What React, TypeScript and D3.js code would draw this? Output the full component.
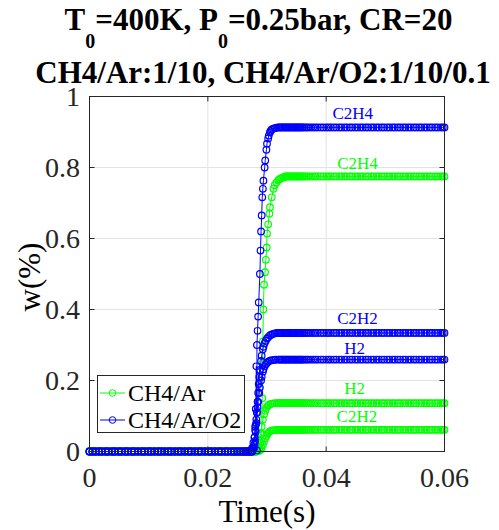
import React from "react";
import * as d3 from "d3";

// ---------- data ----------
const xTicks = [0, 0.02, 0.04, 0.06];
const yTicks = [0, 0.2, 0.4, 0.6, 0.8, 1];
const xTickLabels = ["0", "0.02", "0.04", "0.06"];
const yTickLabels = ["0", "0.2", "0.4", "0.6", "0.8", "1"];

const mixtures = ["CH4/Ar", "CH4/Ar/O2"];
const mixtureColors = ["#00ff00", "#0000ff"];

// solver output times before ignition (value ~0)
const preTimes = [
  0, 0.0005, 0.001, 0.0016, 0.0021, 0.0027, 0.0032, 0.0038, 0.0043, 0.0049, 0.0054, 0.006,
  0.0065, 0.0071, 0.0076, 0.0082, 0.0088, 0.0093, 0.0099, 0.0104, 0.011, 0.0116, 0.0121,
  0.0127, 0.0133, 0.0138, 0.0144, 0.015, 0.0155, 0.0161, 0.0167, 0.0172, 0.0178, 0.0184,
  0.0189, 0.0195, 0.0201, 0.0206, 0.0212, 0.0218, 0.0223, 0.0229, 0.0234, 0.024, 0.0245,
  0.025, 0.0255, 0.026, 0.0264, 0.0268, 0.0272, 0.0275, 0.0278, 0.0281,
];
// solver output times after ignition (value at plateau)
const plateauTimes = [
  0.0319, 0.0321, 0.0323, 0.0325, 0.0327, 0.0329, 0.0331, 0.0333, 0.0335, 0.0337, 0.0339,
  0.0341, 0.0343, 0.0345, 0.0347, 0.0349, 0.0351, 0.0353, 0.0355, 0.0357, 0.0359, 0.0361,
  0.0364, 0.0367, 0.037, 0.0374, 0.0378, 0.0382, 0.0386, 0.0391, 0.0395, 0.04, 0.0404,
  0.0408, 0.0413, 0.0417, 0.0422, 0.0426, 0.0431, 0.0435, 0.044, 0.0444, 0.0449, 0.0453,
  0.0458, 0.0462, 0.0467, 0.0471, 0.0476, 0.048, 0.0485, 0.0489, 0.0494, 0.0498, 0.0503,
  0.0507, 0.0512, 0.0516, 0.0521, 0.0525, 0.053, 0.0534, 0.0539, 0.0543, 0.0548, 0.0552,
  0.0557, 0.0561, 0.0566, 0.057, 0.0575, 0.0579, 0.0584, 0.0588, 0.0593, 0.0597, 0.06,
];

// CH4/Ar (green)
const arC2H4Rise: [number, number][] = [
  [0.0284, 0.002], [0.0287, 0.01], [0.0289, 0.025], [0.0291, 0.05], [0.0292, 0.15],
  [0.02925, 0.25], [0.0293, 0.31], [0.02938, 0.4], [0.0295, 0.47], [0.02966, 0.505],
  [0.0298, 0.54], [0.02995, 0.575], [0.0300, 0.614], [0.0302, 0.64], [0.0304, 0.67],
  [0.0305, 0.688], [0.0308, 0.716], [0.0311, 0.74], [0.0313, 0.75], [0.0316, 0.758],
  [0.0319, 0.764], [0.0321, 0.767], [0.0324, 0.77], [0.0327, 0.772], [0.033, 0.774],
];
const arC2H4Level = 0.775;
const arH2Rise: [number, number][] = [
  [0.0283, 0.004], [0.0285, 0.015], [0.0287, 0.03], [0.0289, 0.05], [0.0291, 0.07],
  [0.0293, 0.09], [0.0295, 0.105], [0.0297, 0.115], [0.0299, 0.123], [0.0301, 0.128],
  [0.0303, 0.131], [0.0306, 0.134], [0.0309, 0.135], [0.0313, 0.136], [0.0317, 0.136],
];
const arH2Level = 0.136;
const arC2H2Rise: [number, number][] = [
  [0.0287, 0.002], [0.0289, 0.005], [0.0291, 0.01], [0.0293, 0.018], [0.0295, 0.028],
  [0.0297, 0.037], [0.0299, 0.044], [0.0301, 0.05], [0.0303, 0.054], [0.0305, 0.057],
  [0.0308, 0.059], [0.0311, 0.06], [0.0315, 0.061], [0.0318, 0.061],
];
const arC2H2Level = 0.061;

// CH4/Ar/O2 (blue)
const o2C2H4Rise: [number, number][] = [
  [0.0283, 0.003], [0.0276, 0.01], [0.0279, 0.04], [0.028, 0.07], [0.0281, 0.12],
  [0.0282, 0.24], [0.0283, 0.3], [0.0284, 0.34], [0.0285, 0.38], [0.0286, 0.42],
  [0.0288, 0.5], [0.0289, 0.566], [0.029, 0.62], [0.0291, 0.665], [0.0292, 0.716],
  [0.0293, 0.74], [0.0294, 0.763], [0.0296, 0.8], [0.0297, 0.82], [0.0299, 0.85],
  [0.03, 0.867], [0.0302, 0.882], [0.0303, 0.89], [0.0305, 0.899], [0.0306, 0.903],
  [0.0308, 0.907], [0.031, 0.909], [0.0313, 0.911], [0.0316, 0.912],
];
const o2C2H4Level = 0.913;
const o2C2H2Rise: [number, number][] = [
  [0.0277, 0.008], [0.0279, 0.02], [0.028, 0.03], [0.0281, 0.055], [0.0282, 0.08],
  [0.0283, 0.11], [0.0284, 0.14], [0.0285, 0.165], [0.0286, 0.19], [0.0287, 0.21],
  [0.0288, 0.23], [0.029, 0.255], [0.0291, 0.27], [0.0293, 0.288], [0.0294, 0.295],
  [0.0296, 0.305], [0.0298, 0.312], [0.03, 0.318], [0.0302, 0.322], [0.0305, 0.327],
  [0.0307, 0.329], [0.031, 0.331], [0.0313, 0.333], [0.0317, 0.334],
];
const o2C2H2Level = 0.334;
const o2H2Rise: [number, number][] = [
  [0.0275, 0.01], [0.0277, 0.025], [0.0279, 0.04], [0.028, 0.06], [0.0281, 0.075],
  [0.0282, 0.09], [0.0283, 0.11], [0.0284, 0.125], [0.0285, 0.14], [0.0287, 0.165],
  [0.0288, 0.18], [0.029, 0.2], [0.0291, 0.21], [0.0293, 0.225], [0.0294, 0.232],
  [0.0296, 0.24], [0.0298, 0.246], [0.03, 0.25], [0.0302, 0.253], [0.0305, 0.256],
  [0.0308, 0.257], [0.0312, 0.258], [0.0315, 0.259],
];
const o2H2Level = 0.259;

const labelTexts = ["C2H4", "C2H4", "C2H2", "H2", "H2", "C2H2"];
const labelMix = [1, 0, 1, 1, 0, 0];
const labelT = [0.0445, 0.0453, 0.0453, 0.0448, 0.0448, 0.0452];
const labelW = [0.938, 0.797, 0.36, 0.276, 0.163, 0.082];

// ---------- build series ----------
function buildSeries(rise: [number, number][], level: number): [number, number][] {
  const first = d3.min(rise, (d) => d[0]) as number;
  const last = d3.max(rise, (d) => d[0]) as number;
  const pre = preTimes.filter((t) => t < first).map((t) => [t, 0] as [number, number]);
  const mid = [...rise].sort((a, b) => a[0] - b[0]);
  const post = plateauTimes.filter((t) => t > last).map((t) => [t, level] as [number, number]);
  return [...pre, ...mid, ...post];
}

const seriesList = [
  { mix: 0, pts: buildSeries(arC2H4Rise, arC2H4Level) },
  { mix: 0, pts: buildSeries(arH2Rise, arH2Level) },
  { mix: 0, pts: buildSeries(arC2H2Rise, arC2H2Level) },
  { mix: 1, pts: buildSeries(o2C2H4Rise, o2C2H4Level) },
  { mix: 1, pts: buildSeries(o2C2H2Rise, o2C2H2Level) },
  { mix: 1, pts: buildSeries(o2H2Rise, o2H2Level) },
];

// ---------- layout ----------
const W = 499;
const H = 530;
const left = 89.5;
const right = 444.5;
const top = 96.5;
const bottom = 451.5;
const FONT = "Liberation Serif";
const AX = "#262626";
const tf = { fontFamily: FONT };

export default function App() {
  const x = d3.scaleLinear().domain([0, 0.06]).range([left, right]);
  const y = d3.scaleLinear().domain([0, 1]).range([bottom, top]);
  const line = d3
    .line<[number, number]>()
    .x((d) => x(d[0]))
    .y((d) => y(d[1]));
  const tick = 5;

  return (
    <svg
      width={W}
      height={H}
      style={{ position: "absolute", left: 0, top: 0, background: "#fff", fontFamily: FONT }}
    >
      <rect x={0} y={0} width={W} height={H} fill="#fff" />
      {/* title */}
      <text x={258.5} y={29.5} textAnchor="middle" fontSize={31} fontWeight="bold" fill="#000" style={tf}>
        <tspan>T</tspan>
        <tspan fontSize={20} dy={18}>0</tspan>
        <tspan dy={-18}>=400K, P</tspan>
        <tspan fontSize={20} dy={18}>0</tspan>
        <tspan dy={-18}>=0.25bar, CR=20</tspan>
      </text>
      <text x={263} y={82.5} textAnchor="middle" fontSize={31} fontWeight="bold" fill="#000" style={tf}>
        CH4/Ar:1/10, CH4/Ar/O2:1/10/0.1
      </text>

      {/* grid */}
      <g stroke="#e3e3e3" strokeWidth={1}>
        {xTicks.slice(1, -1).map((t) => (
          <line key={"gx" + t} x1={x(t)} x2={x(t)} y1={top} y2={bottom} />
        ))}
        {yTicks.slice(1, -1).map((t) => (
          <line key={"gy" + t} x1={left} x2={right} y1={y(t)} y2={y(t)} />
        ))}
      </g>

      {/* series */}
      {seriesList.map((s, i) => (
        <g key={"s" + i} stroke={mixtureColors[s.mix]} fill="none" strokeWidth={1}>
          <path d={line(s.pts) || ""} />
          {s.pts.map((p, j) => (
            <circle key={j} cx={x(p[0])} cy={y(p[1])} r={3.3} strokeWidth={1.2} />
          ))}
        </g>
      ))}

      {/* annotations */}
      {labelTexts.map((t, i) => (
        <text
          key={"l" + i}
          x={x(labelT[i])}
          y={y(labelW[i])}
          textAnchor="middle"
          fontSize={17}
          fill={mixtureColors[labelMix[i]]}
          style={tf}
        >
          {t}
        </text>
      ))}

      {/* axes box */}
      <rect x={left} y={top} width={right - left} height={bottom - top} fill="none" stroke={AX} strokeWidth={1} />
      <g stroke={AX} strokeWidth={1}>
        {xTicks.map((t) => (
          <g key={"tx" + t}>
            <line x1={x(t)} x2={x(t)} y1={bottom} y2={bottom - tick} />
            <line x1={x(t)} x2={x(t)} y1={top} y2={top + tick} />
          </g>
        ))}
        {yTicks.map((t) => (
          <g key={"ty" + t}>
            <line x1={left} x2={left + tick} y1={y(t)} y2={y(t)} />
            <line x1={right} x2={right - tick} y1={y(t)} y2={y(t)} />
          </g>
        ))}
      </g>
      {xTicks.map((t, i) => (
        <text key={"xl" + t} x={x(t)} y={487} textAnchor="middle" fontSize={28} fill={AX} style={tf}>
          {xTickLabels[i]}
        </text>
      ))}
      {yTicks.map((t, i) => (
        <text key={"yl" + t} x={80} y={y(t) + 9.5} textAnchor="end" fontSize={28} fill={AX} style={tf}>
          {yTickLabels[i]}
        </text>
      ))}
      <text x={267} y={522} textAnchor="middle" fontSize={31} fill="#000" style={tf}>
        Time(s)
      </text>
      <text
        transform={`translate(40,277) rotate(-90)`}
        textAnchor="middle"
        fontSize={31}
        fill="#000"
        style={tf}
      >
        w(%)
      </text>

      {/* legend */}
      <rect x={97.5} y={375.5} width={147} height={57} fill="#fff" stroke={AX} strokeWidth={1} />
      {mixtures.map((m, i) => {
        const ly = 393 + i * 27;
        return (
          <g key={"lg" + i}>
            <line x1={100} x2={125} y1={ly} y2={ly} stroke={mixtureColors[i]} strokeWidth={1} />
            <circle cx={112.5} cy={ly} r={3.3} fill="none" stroke={mixtureColors[i]} strokeWidth={1} />
            <text x={128} y={ly + 8} fontSize={24} fill="#000" style={tf}>
              {m}
            </text>
          </g>
        );
      })}
    </svg>
  );
}
